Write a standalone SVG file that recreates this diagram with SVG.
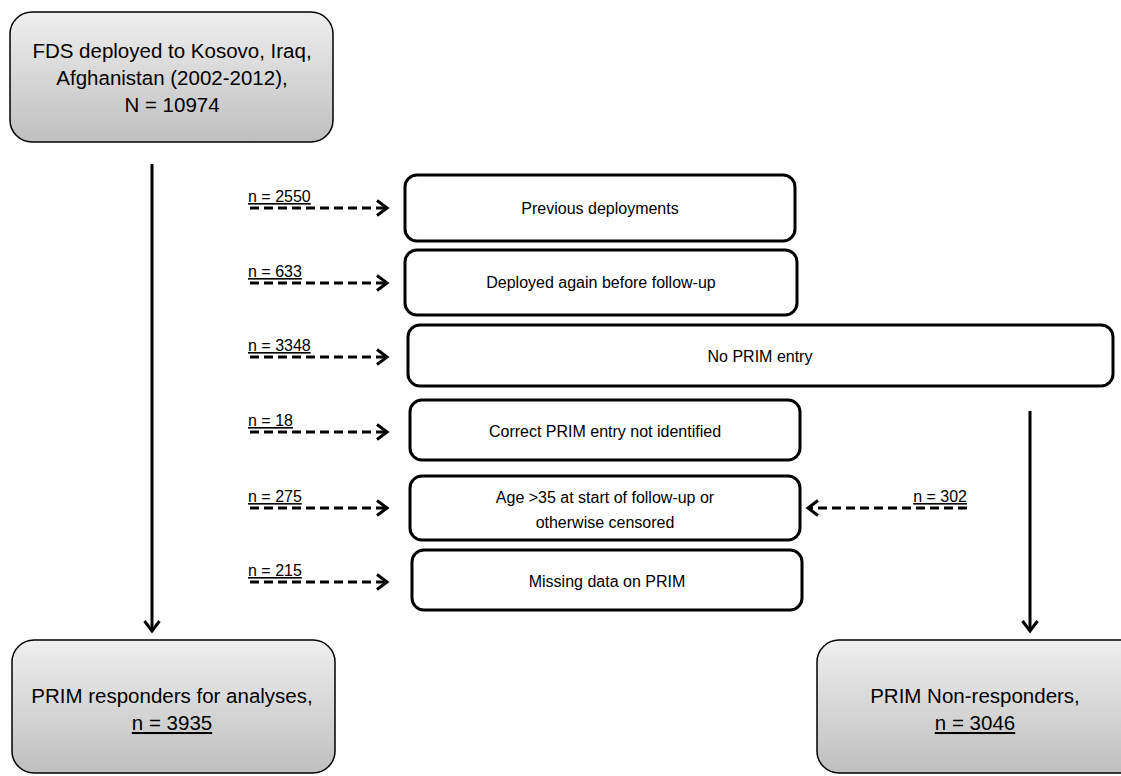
<svg xmlns="http://www.w3.org/2000/svg" width="1121" height="776" viewBox="0 0 1121 776">
<style>
.big{fill:url(#g);stroke:#000;stroke-width:1.5}
.box{fill:#fff;stroke:#000;stroke-width:3}
.t{font-family:"Liberation Sans",Arial,sans-serif;font-size:16px;fill:#000;text-anchor:middle}
.tb{font-family:"Liberation Sans",Arial,sans-serif;font-size:20.5px;fill:#000;text-anchor:middle}
.lab{font-family:"Liberation Sans",Arial,sans-serif;font-size:16px;fill:#000;text-decoration:underline}
.solid{stroke:#000;stroke-width:3;fill:none}
.dash{stroke:#000;stroke-width:3;fill:none;stroke-dasharray:9,5}
</style>
<defs>
<linearGradient id="g" x1="0" y1="0" x2="0" y2="1"><stop offset="0" stop-color="#efefef"/><stop offset="1" stop-color="#bfbfbf"/></linearGradient>
<marker id="ah" markerWidth="16" markerHeight="18" refX="12" refY="9" orient="auto" markerUnits="userSpaceOnUse"><path d="M2,1.5 L12,9 L2,16.5" fill="none" stroke="#000" stroke-width="3"/></marker>
</defs>
<g id="n-start"><rect class="big" x="10" y="12" width="323" height="130" rx="22"/>
<text class="tb" x="172" y="58">FDS deployed to Kosovo, Iraq,</text>
<text class="tb" x="172" y="85">Afghanistan (2002-2012),</text>
<text class="tb" x="172" y="112">N = 10974</text></g>
<g id="n-prev"><rect class="box" x="405" y="175" width="390" height="66" rx="12"/><text class="t" x="600" y="214">Previous deployments</text></g>
<g id="n-again"><rect class="box" x="405" y="250" width="392" height="65" rx="12"/><text class="t" x="601" y="288">Deployed again before follow-up</text></g>
<g id="n-noprim"><rect class="box" x="408" y="325" width="705" height="61" rx="12"/><text class="t" x="760" y="362">No PRIM entry</text></g>
<g id="n-correct"><rect class="box" x="410" y="400" width="390" height="60" rx="12"/><text class="t" x="605" y="437">Correct PRIM entry not identified</text></g>
<g id="n-age"><rect class="box" x="410" y="476" width="390" height="64" rx="12"/><text class="t" x="605" y="503">Age &gt;35 at start of follow-up or</text><text class="t" x="605" y="528">otherwise censored</text></g>
<g id="n-missing"><rect class="box" x="412" y="550" width="390" height="60" rx="12"/><text class="t" x="607" y="587">Missing data on PRIM</text></g>
<g id="n-resp"><rect class="big" x="12" y="640" width="323" height="133" rx="22"/>
<text class="tb" x="172" y="703">PRIM responders for analyses,</text>
<text class="tb" x="172" y="730" text-decoration="underline">n = 3935</text></g>
<g id="n-nonresp"><rect class="big" x="817" y="640" width="325" height="133" rx="22"/>
<text class="tb" x="975" y="703">PRIM Non-responders,</text>
<text class="tb" x="975" y="730" text-decoration="underline">n = 3046</text></g>
<g id="connectors">
<line class="solid" x1="152" y1="164" x2="152" y2="631" marker-end="url(#ah)"/>
<line class="solid" x1="1030" y1="411" x2="1030" y2="631" marker-end="url(#ah)"/>
<line class="dash" x1="250" y1="208" x2="387" y2="208" marker-end="url(#ah)"/>
<line class="dash" x1="250" y1="283" x2="387" y2="283" marker-end="url(#ah)"/>
<line class="dash" x1="250" y1="357" x2="387" y2="357" marker-end="url(#ah)"/>
<line class="dash" x1="250" y1="432" x2="387" y2="432" marker-end="url(#ah)"/>
<line class="dash" x1="250" y1="508" x2="387" y2="508" marker-end="url(#ah)"/>
<line class="dash" x1="250" y1="582" x2="387" y2="582" marker-end="url(#ah)"/>
<line class="dash" x1="967" y1="508" x2="808" y2="508" marker-end="url(#ah)"/>
<text class="lab" x="248" y="202">n = 2550</text>
<text class="lab" x="248" y="277">n = 633</text>
<text class="lab" x="248" y="351">n = 3348</text>
<text class="lab" x="248" y="426">n = 18</text>
<text class="lab" x="248" y="502">n = 275</text>
<text class="lab" x="248" y="576">n = 215</text>
<text class="lab" x="967" y="502" text-anchor="end">n = 302</text>
</g>
</svg>
